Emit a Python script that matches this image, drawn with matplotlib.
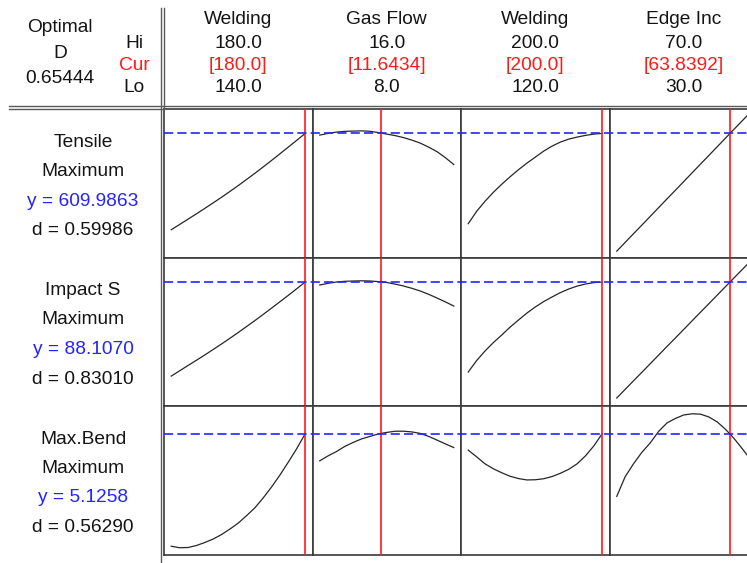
import matplotlib
matplotlib.use("Agg")
import matplotlib.pyplot as plt
from matplotlib.lines import Line2D

plt.rcParams['font.family'] = ['Liberation Sans', 'DejaVu Sans']

# ---------------- data ----------------
factor_names = ["Welding", "Gas Flow", "Welding", "Edge Inc"]
factor_lo = [140.0, 8.0, 120.0, 30.0]
factor_hi = [180.0, 16.0, 200.0, 70.0]
factor_cur = [180.0, 11.6434, 200.0, 63.8392]
hi_labels = ["180.0", "16.0", "200.0", "70.0"]
cur_labels = ["[180.0]", "[11.6434]", "[200.0]", "[63.8392]"]
lo_labels = ["140.0", "8.0", "120.0", "30.0"]

x_welding1 = [140, 142.5, 145, 147.5, 150, 152.5, 155, 157.5, 160,
              162.5, 165, 167.5, 170, 172.5, 175, 177.5, 180]
x_gas = [8, 8.5, 9, 9.5, 10, 10.5, 11, 11.5, 12,
         12.5, 13, 13.5, 14, 14.5, 15, 15.5, 16]
x_welding2 = [120, 125, 130, 135, 140, 145, 150, 155, 160,
              165, 170, 175, 180, 185, 190, 195, 200]
x_edge = [30, 32.5, 35, 37.5, 40, 42.5, 45, 47.5, 50,
          52.5, 55, 57.5, 60, 62.5, 65, 67.5, 70]

tensile_welding1 = [514.0, 519.2, 524.5, 529.8, 535.2, 540.7, 546.3, 552.1, 558.0,
                    564.1, 570.3, 576.7, 583.2, 589.8, 596.5, 603.2, 610.0]
tensile_gas = [608.3, 610.0, 611.3, 612.0, 612.3, 612.5, 612.1, 610.8, 609.3,
               607.8, 605.8, 603.3, 600.3, 596.3, 591.8, 585.8, 579.0]
tensile_welding2 = [520.0, 532.3, 542.3, 551.3, 559.3, 566.8, 573.8, 580.3, 586.3,
                    592.3, 597.3, 601.3, 604.3, 606.3, 608.0, 609.3, 610.0]
tensile_edge = [492.6, 501.3, 510.0, 518.6, 527.3, 536.0, 544.7, 553.3, 562.0,
                570.7, 579.4, 588.0, 596.7, 605.4, 614.1, 622.7, 631.4]

impact_welding1 = [78.70, 79.23, 79.76, 80.28, 80.81, 81.36, 81.91, 82.48, 83.06,
                   83.66, 84.26, 84.88, 85.51, 86.15, 86.79, 87.45, 88.11]
impact_gas = [87.81, 87.98, 88.11, 88.18, 88.21, 88.23, 88.21, 88.15, 88.06,
              87.90, 87.71, 87.48, 87.21, 86.88, 86.51, 86.12, 85.71]
impact_welding2 = [79.11, 80.25, 81.21, 82.05, 82.81, 83.60, 84.31, 85.00, 85.61,
                   86.15, 86.61, 87.05, 87.41, 87.70, 87.91, 88.05, 88.11]
impact_edge = [76.51, 77.37, 78.23, 79.08, 79.94, 80.80, 81.66, 82.51, 83.37,
               84.23, 85.09, 85.94, 86.80, 87.66, 88.52, 89.37, 90.23]

bend_welding1 = [3.996, 3.981, 3.983, 4.003, 4.033, 4.068, 4.113, 4.168, 4.228,
                 4.303, 4.383, 4.483, 4.593, 4.713, 4.843, 4.978, 5.126]
bend_gas = [4.853, 4.903, 4.946, 4.998, 5.038, 5.073, 5.098, 5.123, 5.138,
            5.150, 5.150, 5.143, 5.128, 5.098, 5.061, 5.023, 4.986]
bend_welding2 = [4.960, 4.893, 4.823, 4.773, 4.733, 4.698, 4.675, 4.661, 4.663,
                 4.673, 4.695, 4.728, 4.768, 4.823, 4.903, 5.003, 5.126]
bend_edge = [4.496, 4.693, 4.823, 4.938, 5.033, 5.148, 5.233, 5.278, 5.313,
             5.325, 5.321, 5.293, 5.243, 5.168, 5.078, 4.973, 4.863]

response_names = ["Tensile", "Impact S", "Max.Bend"]
response_goals = ["Maximum", "Maximum", "Maximum"]
response_y = [609.9863, 88.1070, 5.1258]
y_labels = ["y = 609.9863", "y = 88.1070", "y = 5.1258"]
d_labels = ["d = 0.59986", "d = 0.83010", "d = 0.56290"]
row_ylims = [(486.3, 634.3), (75.71, 90.56), (3.913, 5.403)]
optimal_D = "0.65444"

xs = [x_welding1, x_gas, x_welding2, x_edge]
curves = [
    [tensile_welding1, tensile_gas, tensile_welding2, tensile_edge],
    [impact_welding1, impact_gas, impact_welding2, impact_edge],
    [bend_welding1, bend_gas, bend_welding2, bend_edge],
]

# ---------------- layout ----------------
W, H = 747, 563
fig = plt.figure(figsize=(W / 100, H / 100), dpi=100)

X0, Y0, CELL = 164.0, 109.0, 148.5
FS = 13.8
TXT = '#141414'
RED = '#ff1a1a'
BLUE = '#2424ff'
FRAME = '#3a3a3a'
SEP = '#5a5a5a'


def rect(px, py, w, h):
    return [px / W, 1 - (py + h) / H, w / W, h / H]


for r in range(3):
    for c in range(4):
        ax = fig.add_axes(rect(X0 + c * CELL, Y0 + r * CELL, CELL, CELL))
        lo, hi = factor_lo[c], factor_hi[c]
        pad = (hi - lo) * 0.0541
        ax.set_xlim(lo - pad, hi + pad)
        ax.set_ylim(*row_ylims[r])
        ax.plot(xs[c], curves[r][c], color='#262626', lw=0.9, zorder=3)
        ax.axvline(factor_cur[c], color=RED, lw=1.2, zorder=4)
        ax.set_xticks([])
        ax.set_yticks([])
        for s in ax.spines.values():
            s.set_color(FRAME)
            s.set_linewidth(1.2)
    # dashed optimum line across the whole row
    ov = fig.add_axes(rect(X0, Y0 + r * CELL, 4 * CELL, CELL), zorder=5)
    ov.set_ylim(*row_ylims[r])
    ov.set_xlim(0, 1)
    ov.axis('off')
    ov.patch.set_alpha(0)
    ov.axhline(response_y[r], color=BLUE, lw=1.2, ls=(0, (5.5, 2.5)))

# double separator lines
fig.add_artist(Line2D([161 / W, 161 / W], [1 - 8 / H, 1 - 562 / H],
                      color=SEP, lw=1.0, transform=fig.transFigure))
fig.add_artist(Line2D([164 / W, 164 / W], [1 - 8 / H, 1 - 109 / H],
                      color=SEP, lw=1.0, transform=fig.transFigure))
fig.add_artist(Line2D([9 / W, 1.0], [1 - 105.5 / H, 1 - 105.5 / H],
                      color=SEP, lw=1.0, transform=fig.transFigure))
fig.add_artist(Line2D([9 / W, 164 / W], [1 - 109 / H, 1 - 109 / H],
                      color=SEP, lw=1.0, transform=fig.transFigure))


def ftext(px, py, s, color=TXT):
    fig.text(px / W, 1 - py / H, s, ha='center', va='center',
             fontsize=FS, color=color)


# header: optimal D
ftext(60, 28, "Optimal")
ftext(60, 53, "D")
ftext(60, 78.5, optimal_D)
ftext(134, 44, "Hi")
ftext(134, 66, "Cur", RED)
ftext(134, 88, "Lo")

for c in range(4):
    cx = X0 + c * CELL + CELL / 2
    ftext(cx, 20, factor_names[c])
    ftext(cx, 43.5, hi_labels[c])
    ftext(cx, 65.5, cur_labels[c], RED)
    ftext(cx, 88, lo_labels[c])

for r in range(3):
    base = 142 + r * CELL
    ftext(83, base, response_names[r])
    ftext(83, base + 29.5, response_goals[r])
    ftext(83, base + 59, y_labels[r], BLUE)
    ftext(83, base + 88.5, d_labels[r])

fig.savefig("out.png", dpi=100)
